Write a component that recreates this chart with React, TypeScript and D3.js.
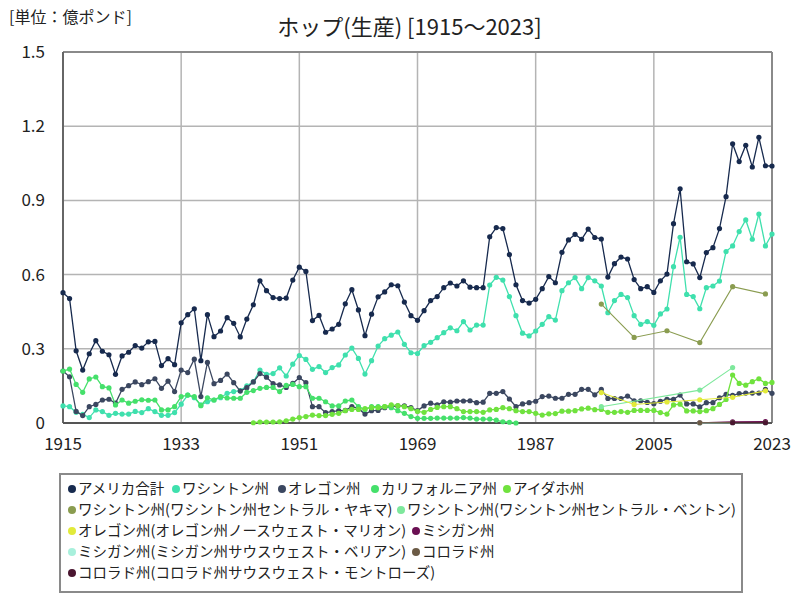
import React from "react";
import * as d3 from "d3";

// ---- data (unit: 億ポンド) ----
const startYear = 1915;
const endYear = 2023;

const usTotal = [
  0.527, 0.503, 0.292, 0.214, 0.28, 0.333, 0.29, 0.276, 0.197, 0.271,
  0.286, 0.313, 0.303, 0.328, 0.33, 0.232, 0.26, 0.236, 0.405, 0.438,
  0.462, 0.252, 0.438, 0.349, 0.372, 0.426, 0.403, 0.348, 0.42, 0.478,
  0.575, 0.535, 0.507, 0.503, 0.505, 0.578, 0.63, 0.613, 0.414, 0.435,
  0.367, 0.38, 0.399, 0.482, 0.539, 0.457, 0.353, 0.44, 0.51, 0.53,
  0.559, 0.555, 0.489, 0.434, 0.415, 0.454, 0.495, 0.511, 0.547, 0.566,
  0.554, 0.575, 0.549, 0.547, 0.547, 0.753, 0.79, 0.786, 0.681, 0.559,
  0.495, 0.485, 0.5, 0.543, 0.592, 0.567, 0.69, 0.74, 0.763, 0.743,
  0.784, 0.75, 0.744, 0.59, 0.644, 0.671, 0.663, 0.58, 0.543, 0.551,
  0.528, 0.575, 0.602, 0.806, 0.947, 0.652, 0.643, 0.588, 0.689, 0.709,
  0.786, 0.915, 1.129, 1.057, 1.123, 1.035, 1.155, 1.04, 1.039,
];

const washington = [
  0.069, 0.066, 0.043, 0.035, 0.022, 0.053, 0.046, 0.031, 0.039, 0.036,
  0.036, 0.047, 0.042, 0.058, 0.046, 0.031, 0.031, 0.042, 0.076, 0.113,
  0.102, 0.073, 0.086, 0.093, 0.102, 0.12, 0.127, 0.131, 0.15, 0.167,
  0.214, 0.197, 0.2, 0.223, 0.19, 0.238, 0.273, 0.257, 0.217, 0.228,
  0.204, 0.224, 0.235, 0.275, 0.303, 0.261, 0.198, 0.252, 0.311, 0.341,
  0.355, 0.368, 0.318, 0.284, 0.281, 0.313, 0.326, 0.345, 0.365, 0.385,
  0.373, 0.41, 0.376, 0.396, 0.396, 0.558, 0.589, 0.578, 0.511, 0.434,
  0.363, 0.352, 0.372, 0.399, 0.43, 0.416, 0.535, 0.567, 0.588, 0.543,
  0.588, 0.575, 0.554, 0.446, 0.495, 0.52, 0.507, 0.434, 0.399, 0.41,
  0.395, 0.441, 0.461, 0.632, 0.751, 0.52, 0.511, 0.462, 0.547, 0.554,
  0.574, 0.693, 0.716, 0.774, 0.821, 0.743, 0.845, 0.716, 0.764,
];

const oregon = [
  0.21, 0.187, 0.047, 0.03, 0.066, 0.075, 0.093, 0.096, 0.08, 0.136,
  0.151, 0.166, 0.155, 0.167, 0.179, 0.14, 0.169, 0.127, 0.214, 0.204,
  0.258, 0.107, 0.245, 0.159, 0.172, 0.198, 0.163, 0.129, 0.143, 0.166,
  0.2, 0.185, 0.159, 0.154, 0.144, 0.16, 0.184, 0.163, 0.066, 0.066,
  0.042, 0.046, 0.05, 0.051, 0.066, 0.059, 0.036, 0.05, 0.051, 0.062,
  0.066, 0.069, 0.069, 0.062, 0.05, 0.069, 0.08, 0.073, 0.086, 0.084,
  0.089, 0.089, 0.09, 0.082, 0.084, 0.12, 0.12, 0.127, 0.097, 0.066,
  0.077, 0.082, 0.088, 0.107, 0.109, 0.1, 0.1, 0.116, 0.116, 0.136,
  0.136, 0.114, 0.136, 0.099, 0.099, 0.099, 0.109, 0.09, 0.09, 0.083,
  0.078, 0.088, 0.096, 0.096, 0.113, 0.077, 0.077, 0.065, 0.082, 0.082,
  0.102, 0.116, 0.112, 0.119, 0.121, 0.121, 0.121, 0.136, 0.12,
];

// 1915–1984
const california = [
  0.21, 0.218, 0.156, 0.124, 0.178, 0.186, 0.147, 0.142, 0.073, 0.093,
  0.08, 0.088, 0.094, 0.092, 0.093, 0.053, 0.053, 0.066, 0.107, 0.113,
  0.107, 0.07, 0.102, 0.093, 0.107, 0.101, 0.1, 0.1, 0.124, 0.131,
  0.14, 0.144, 0.144, 0.127, 0.152, 0.156, 0.147, 0.147, 0.1, 0.1,
  0.086, 0.069, 0.069, 0.089, 0.093, 0.066, 0.055, 0.066, 0.066, 0.066,
  0.062, 0.05, 0.039, 0.026, 0.019, 0.019, 0.019, 0.02, 0.02, 0.02,
  0.02, 0.022, 0.02, 0.016, 0.016, 0.016, 0.012, 0.005, 0.003, 0.0,
];
const californiaStart = 1915;

// 1944–2023
const idaho = [
  0.001, 0.004, 0.004, 0.004, 0.005, 0.009, 0.016, 0.022, 0.026, 0.032,
  0.03, 0.03, 0.035, 0.039, 0.05, 0.055, 0.055, 0.058, 0.062, 0.062,
  0.066, 0.073, 0.07, 0.066, 0.058, 0.047, 0.043, 0.055, 0.063, 0.066,
  0.066, 0.058, 0.046, 0.046, 0.046, 0.043, 0.053, 0.055, 0.062, 0.058,
  0.05, 0.046, 0.046, 0.039, 0.032, 0.037, 0.038, 0.048, 0.048, 0.05,
  0.057, 0.06, 0.054, 0.055, 0.043, 0.043, 0.046, 0.043, 0.051, 0.051,
  0.051, 0.051, 0.042, 0.036, 0.073, 0.076, 0.049, 0.049, 0.046, 0.05,
  0.058, 0.075, 0.095, 0.194, 0.16, 0.153, 0.167, 0.179, 0.16, 0.164,
];
const idahoStart = 1944;

// census-year series
const censusYears = [1997, 2002, 2007, 2012, 2017, 2022];
const waYakima = [0.481, 0.346, 0.373, 0.325, 0.551, 0.522];
const waBentonYears = [1997, 2012, 2017];
const waBenton = [0.066, 0.133, 0.224];
const orMarion = [0.123, 0.075, 0.085, 0.094, 0.104, 0.13];
const smallYears = [2012, 2017, 2022];
const michigan = [0.001, 0.005, 0.006];
const miBerrien = [0.0, 0.001, 0.001];
const colorado = [0.001, 0.002, 0.002];
const coMontroseYears = [2017, 2022];
const coMontrose = [0.001, 0.001];

const yTicks = [0, 0.3, 0.6, 0.9, 1.2, 1.5];
const xTicks = [1915, 1933, 1951, 1969, 1987, 2005, 2023];

const seriesNames = [
  "アメリカ合計",
  "ワシントン州",
  "オレゴン州",
  "カリフォルニア州",
  "アイダホ州",
  "ワシントン州(ワシントン州セントラル・ヤキマ)",
  "ワシントン州(ワシントン州セントラル・ベントン)",
  "オレゴン州(オレゴン州ノースウェスト・マリオン)",
  "ミシガン州",
  "ミシガン州(ミシガン州サウスウェスト・ベリアン)",
  "コロラド州",
  "コロラド州(コロラド州サウスウェスト・モントローズ)",
];
const seriesColors = [
  "#172a4e",
  "#3fe0ad",
  "#3b4760",
  "#45e06b",
  "#70e23e",
  "#8a9c50",
  "#7ee89c",
  "#e2ea3a",
  "#6a0f52",
  "#a8f0dc",
  "#6b5a45",
  "#4a1630",
];

type Pt = { year: number; value: number };
const annual = (start: number, vals: number[]): Pt[] =>
  vals.map((v, i) => ({ year: start + i, value: v }));
const paired = (years: number[], vals: number[]): Pt[] =>
  vals.map((v, i) => ({ year: years[i], value: v }));

const seriesData: Pt[][] = [
  annual(startYear, usTotal),
  annual(startYear, washington),
  annual(startYear, oregon),
  annual(californiaStart, california),
  annual(idahoStart, idaho),
  paired(censusYears, waYakima),
  paired(waBentonYears, waBenton),
  paired(censusYears, orMarion),
  paired(smallYears, michigan),
  paired(smallYears, miBerrien),
  paired(smallYears, colorado),
  paired(coMontroseYears, coMontrose),
];

// legend layout (row, x)
const legendPos: [number, number][] = [
  [0, 72], [0, 176], [0, 282], [0, 375], [0, 507],
  [1, 72], [1, 401],
  [2, 72], [2, 416],
  [3, 72], [3, 416],
  [4, 72],
];

const W = 800;
const H = 600;
const left = 63;
const right = 772;
const top = 52;
const bottom = 423;

export default function App() {
  const x = d3.scaleLinear().domain([startYear, endYear]).range([left, right]);
  const y = d3.scaleLinear().domain([0, 1.5]).range([bottom, top]);
  const line = d3
    .line<Pt>()
    .x((d) => x(d.year))
    .y((d) => y(d.value));

  const font = "'Noto Sans CJK JP', 'Noto Sans', sans-serif";

  return (
    <svg
      width={W}
      height={H}
      style={{ position: "absolute", left: 0, top: 0, background: "#fff" }}
      fontFamily={font}
    >
      <rect x={0} y={0} width={W} height={H} fill="#fff" />
      <text x={9} y={23} fontSize={16} fill="#222">
        [単位：億ポンド]
      </text>
      <text x={(left + right) / 2 - 8} y={35} fontSize={22} fill="#222" textAnchor="middle">
        ホップ(生産) [1915～2023]
      </text>

      {/* grid */}
      {yTicks.map((t) => (
        <line key={"gy" + t} x1={left} x2={right} y1={y(t)} y2={y(t)} stroke="#b4b4b4" strokeWidth={1.5} />
      ))}
      {xTicks.map((t) => (
        <line key={"gx" + t} x1={x(t)} x2={x(t)} y1={top} y2={bottom} stroke="#b4b4b4" strokeWidth={1.5} />
      ))}
      {/* frame */}
      <line x1={left} x2={right} y1={top} y2={top} stroke="#8a8a8a" strokeWidth={2} />
      <line x1={right} x2={right} y1={top} y2={bottom} stroke="#8a8a8a" strokeWidth={2} />
      <line x1={left} x2={left} y1={top} y2={bottom} stroke="#666" strokeWidth={2} />
      <line x1={left} x2={right} y1={bottom} y2={bottom} stroke="#555" strokeWidth={2} />

      {/* axis labels */}
      {yTicks.map((t) => (
        <text key={"ly" + t} x={45} y={y(t) + 6} fontSize={17} textAnchor="end" fill="#222">
          {t === 0 ? "0" : d3.format(".1f")(t)}
        </text>
      ))}
      {xTicks.map((t) => (
        <text key={"lx" + t} x={x(t)} y={450} fontSize={17} textAnchor="middle" fill="#222">
          {t}
        </text>
      ))}

      {/* series */}
      {seriesData.map((data, si) => (
        <g key={"s" + si}>
          <path
            d={line(data) || ""}
            fill="none"
            stroke={seriesColors[si]}
            strokeWidth={si < 5 ? 1.3 : 1.1}
          />
          {data.map((d, i) => (
            <circle key={i} cx={x(d.year)} cy={y(d.value)} r={2.6} fill={seriesColors[si]} />
          ))}
        </g>
      ))}

      {/* legend */}
      <rect x={60} y={474} width={682} height={118} fill="#fff" stroke="#8a8a8a" strokeWidth={2} />
      {seriesNames.map((name, i) => {
        const [row, lx] = legendPos[i];
        const ly = 489 + row * 21;
        return (
          <g key={"lg" + i}>
            <circle cx={lx} cy={ly} r={4} fill={seriesColors[i]} />
            <text x={lx + 6} y={ly + 5} fontSize={14.5} fill="#222">
              {name}
            </text>
          </g>
        );
      })}
    </svg>
  );
}
